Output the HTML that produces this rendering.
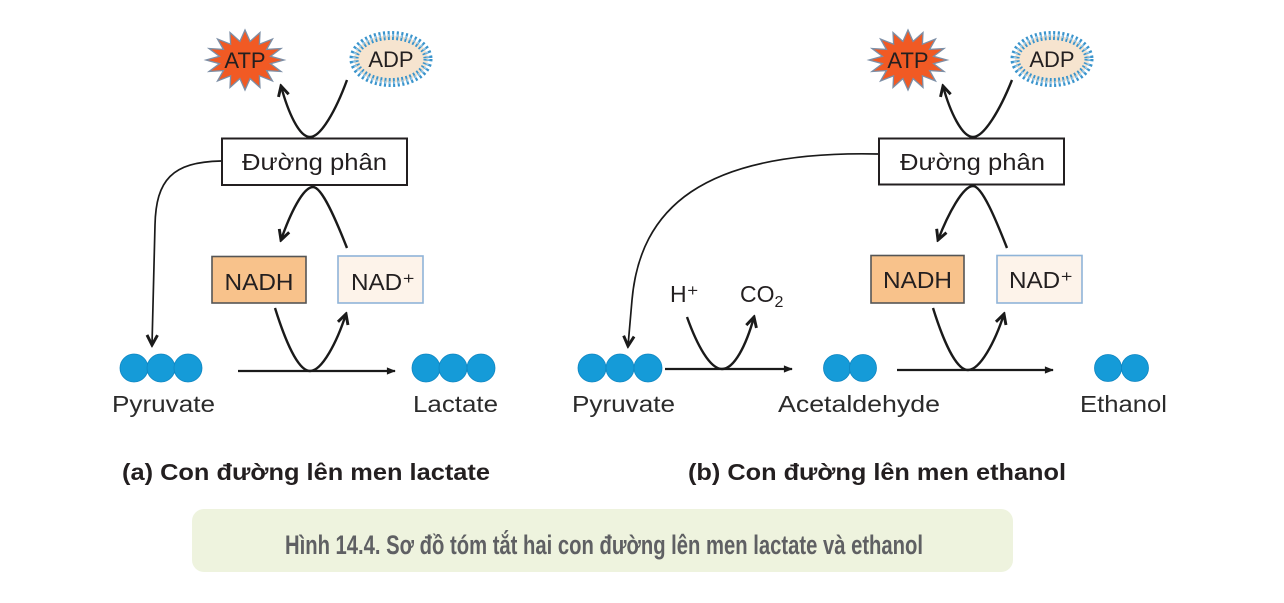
<!DOCTYPE html>
<html>
<head>
<meta charset="utf-8">
<style>
html,body{margin:0;padding:0;background:#fff;}
body{width:1284px;height:603px;overflow:hidden;}
svg{display:block;}
text{font-family:"Liberation Sans",sans-serif;}
</style>
</head>
<body>
<svg width="1284" height="603" viewBox="0 0 1284 603" xmlns="http://www.w3.org/2000/svg">
<defs>
  <marker id="chev" viewBox="0 0 12 12" refX="10" refY="6" markerWidth="14" markerHeight="14" markerUnits="userSpaceOnUse" orient="auto">
    <path d="M1.5,1.5 L10,6 L1.5,10.5" fill="none" stroke="#1a1a1a" stroke-width="2.5" stroke-linejoin="miter"/>
  </marker>
  <marker id="tri" viewBox="0 0 10 10" refX="9" refY="5" markerWidth="10" markerHeight="9" markerUnits="userSpaceOnUse" orient="auto">
    <path d="M0,1 L10,5 L0,9 Z" fill="#1a1a1a"/>
  </marker>
</defs>

<!-- ================= LEFT PANEL ================= -->
<g transform="translate(245,60)">
  <polygon points="39,0 25.5,3.7 36,11.5 21.6,10.6 27.5,21 14.4,15.8 15,27.5 5.1,18.6 0,30 -5.1,18.6 -15,27.5 -14.4,15.8 -27.5,21 -21.6,10.6 -36,11.5 -25.5,3.7 -39,0 -25.5,-3.7 -36,-11.5 -21.6,-10.6 -27.5,-21 -14.4,-15.8 -15,-27.5 -5.1,-18.6 0,-30 5.1,-18.6 15,-27.5 14.4,-15.8 27.5,-21 21.6,-10.6 36,-11.5 25.5,-3.7" fill="#f15a24" stroke="#7d8fa6" stroke-width="1.3"/>
  <text x="0" y="8" font-size="22" text-anchor="middle" fill="#231f20">ATP</text>
</g>
<g transform="translate(391,59)">
  <ellipse cx="0" cy="0" rx="37" ry="23.5" fill="#f6e4cf" stroke="#3a94cc" stroke-width="9" stroke-dasharray="2 2.4"/>
  <ellipse cx="0" cy="0" rx="37" ry="23.5" fill="none" stroke="#9cc9e6" stroke-width="3" stroke-dasharray="1.5 2.9"/>
  <ellipse cx="0" cy="0" rx="32" ry="19" fill="#f6e4cf"/>
  <text x="0" y="8" font-size="22" text-anchor="middle" fill="#231f20">ADP</text>
</g>

<rect x="222" y="138.5" width="185" height="46.5" fill="#fff" stroke="#231f20" stroke-width="2"/>
<text x="314.5" y="170" font-size="23" text-anchor="middle" fill="#231f20" textLength="145" lengthAdjust="spacingAndGlyphs">Đường phân</text>

<path d="M347,80 C336,110 321,137 310,137 C299,137 288,112 281,86" fill="none" stroke="#1a1a1a" stroke-width="2.4" marker-end="url(#chev)"/>
<path d="M347,248 C336,220 322,187 313,187 C303,187 290,214 281,240" fill="none" stroke="#1a1a1a" stroke-width="2.4" marker-end="url(#chev)"/>
<path d="M221,161 C172,162 156,180 155,225 L152,345" fill="none" stroke="#1a1a1a" stroke-width="1.7" marker-end="url(#chev)"/>

<rect x="212" y="256.5" width="94" height="46.5" fill="#f8c28b" stroke="#555" stroke-width="1.6"/>
<text x="259" y="290" font-size="23" text-anchor="middle" fill="#231f20" textLength="69" lengthAdjust="spacingAndGlyphs">NADH</text>
<rect x="338" y="256" width="85" height="47" fill="#fdf3ea" stroke="#8fb4d8" stroke-width="1.6"/>
<text x="351" y="290" font-size="23" fill="#231f20" textLength="64" lengthAdjust="spacingAndGlyphs">NAD⁺</text>

<path d="M238,371 L395,371" fill="none" stroke="#1a1a1a" stroke-width="2.2" marker-end="url(#tri)"/>
<path d="M275,308 C285,340 298,371 310,371 C322,371 337,342 346,314" fill="none" stroke="#1a1a1a" stroke-width="2.4" marker-end="url(#chev)"/>

<g fill="#159bd8" stroke="#0f86c2" stroke-width="0.8">
  <circle cx="134" cy="368" r="14"/>
  <circle cx="161" cy="368" r="14"/>
  <circle cx="188" cy="368" r="14"/>
  <circle cx="426" cy="368" r="14"/>
  <circle cx="453" cy="368" r="14"/>
  <circle cx="481" cy="368" r="14"/>
</g>
<text x="112" y="412" font-size="23" fill="#2b2b2b" textLength="103" lengthAdjust="spacingAndGlyphs">Pyruvate</text>
<text x="413" y="412" font-size="23" fill="#2b2b2b" textLength="85" lengthAdjust="spacingAndGlyphs">Lactate</text>

<text x="122" y="480" font-size="23" font-weight="bold" fill="#231f20" textLength="368" lengthAdjust="spacingAndGlyphs">(a) Con đường lên men lactate</text>

<!-- ================= RIGHT PANEL ================= -->
<g transform="translate(908,60)">
  <polygon points="39,0 25.5,3.7 36,11.5 21.6,10.6 27.5,21 14.4,15.8 15,27.5 5.1,18.6 0,30 -5.1,18.6 -15,27.5 -14.4,15.8 -27.5,21 -21.6,10.6 -36,11.5 -25.5,3.7 -39,0 -25.5,-3.7 -36,-11.5 -21.6,-10.6 -27.5,-21 -14.4,-15.8 -15,-27.5 -5.1,-18.6 0,-30 5.1,-18.6 15,-27.5 14.4,-15.8 27.5,-21 21.6,-10.6 36,-11.5 25.5,-3.7" fill="#f15a24" stroke="#7d8fa6" stroke-width="1.3"/>
  <text x="0" y="8" font-size="22" text-anchor="middle" fill="#231f20">ATP</text>
</g>
<g transform="translate(1052,59)">
  <ellipse cx="0" cy="0" rx="37" ry="23.5" fill="#f6e4cf" stroke="#3a94cc" stroke-width="9" stroke-dasharray="2 2.4"/>
  <ellipse cx="0" cy="0" rx="37" ry="23.5" fill="none" stroke="#9cc9e6" stroke-width="3" stroke-dasharray="1.5 2.9"/>
  <ellipse cx="0" cy="0" rx="32" ry="19" fill="#f6e4cf"/>
  <text x="0" y="8" font-size="22" text-anchor="middle" fill="#231f20">ADP</text>
</g>

<rect x="879" y="138.5" width="185" height="46" fill="#fff" stroke="#231f20" stroke-width="2"/>
<text x="972.5" y="170" font-size="23" text-anchor="middle" fill="#231f20" textLength="145" lengthAdjust="spacingAndGlyphs">Đường phân</text>

<path d="M1012,80 C1000,110 984,137 973,137 C962,137 950,112 943,86" fill="none" stroke="#1a1a1a" stroke-width="2.4" marker-end="url(#chev)"/>
<path d="M1007,248 C996,220 982,186 973,186 C963,186 948,214 938,240" fill="none" stroke="#1a1a1a" stroke-width="2.4" marker-end="url(#chev)"/>
<path d="M878,154 C700,150 640,210 632,300 L628,346" fill="none" stroke="#1a1a1a" stroke-width="1.7" marker-end="url(#chev)"/>

<rect x="871" y="255.5" width="93" height="47.5" fill="#f8c28b" stroke="#555" stroke-width="1.6"/>
<text x="883" y="288" font-size="23" fill="#231f20" textLength="69" lengthAdjust="spacingAndGlyphs">NADH</text>
<rect x="997" y="255.5" width="85" height="47.5" fill="#fdf3ea" stroke="#8fb4d8" stroke-width="1.6"/>
<text x="1009" y="288" font-size="23" fill="#231f20" textLength="64" lengthAdjust="spacingAndGlyphs">NAD⁺</text>

<text x="670" y="302" font-size="23" fill="#231f20">H⁺</text>
<text x="740" y="302" font-size="23" fill="#231f20">CO<tspan font-size="16" dy="5">2</tspan></text>

<path d="M665,369 L792,369" fill="none" stroke="#1a1a1a" stroke-width="2.2" marker-end="url(#tri)"/>
<path d="M687,317 C697,345 710,369 722,369 C734,369 746,346 754,317" fill="none" stroke="#1a1a1a" stroke-width="2.4" marker-end="url(#chev)"/>

<path d="M897,370 L1053,370" fill="none" stroke="#1a1a1a" stroke-width="2.2" marker-end="url(#tri)"/>
<path d="M933,308 C943,340 956,370 968,370 C980,370 995,342 1004,314" fill="none" stroke="#1a1a1a" stroke-width="2.4" marker-end="url(#chev)"/>

<g fill="#159bd8" stroke="#0f86c2" stroke-width="0.8">
  <circle cx="592" cy="368" r="14"/>
  <circle cx="620" cy="368" r="14"/>
  <circle cx="648" cy="368" r="14"/>
  <circle cx="837" cy="368" r="13.5"/>
  <circle cx="863" cy="368" r="13.5"/>
  <circle cx="1108" cy="368" r="13.5"/>
  <circle cx="1135" cy="368" r="13.5"/>
</g>
<text x="572" y="412" font-size="23" fill="#2b2b2b" textLength="103" lengthAdjust="spacingAndGlyphs">Pyruvate</text>
<text x="778" y="412" font-size="23" fill="#2b2b2b" textLength="162" lengthAdjust="spacingAndGlyphs">Acetaldehyde</text>
<text x="1080" y="412" font-size="23" fill="#2b2b2b" textLength="87" lengthAdjust="spacingAndGlyphs">Ethanol</text>

<text x="688" y="480" font-size="23" font-weight="bold" fill="#231f20" textLength="378" lengthAdjust="spacingAndGlyphs">(b) Con đường lên men ethanol</text>

<!-- ================= CAPTION ================= -->
<rect x="192" y="509" width="821" height="63" rx="12" ry="12" fill="#eef3de"/>
<text x="285" y="554" font-size="27" font-weight="bold" fill="#5f6063" textLength="638" lengthAdjust="spacingAndGlyphs">Hình 14.4. Sơ đồ tóm tắt hai con đường lên men lactate và ethanol</text>
</svg>
</body>
</html>
